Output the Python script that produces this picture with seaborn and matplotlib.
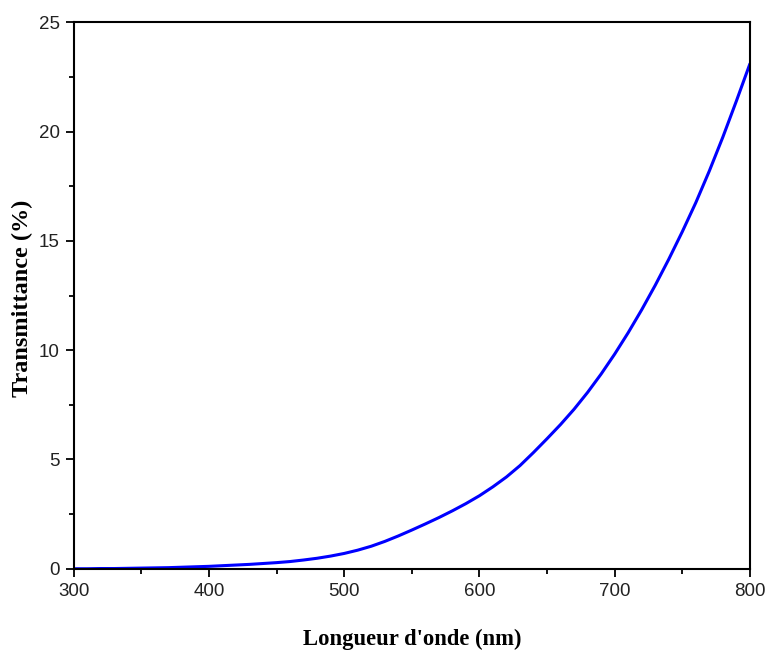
import numpy as np
import pandas as pd
import seaborn as sns
import matplotlib
matplotlib.use("Agg")
import matplotlib.pyplot as plt
from matplotlib.ticker import MultipleLocator

wavelength = [300, 310, 320, 330, 340, 350, 360, 370, 380, 390,
              400, 410, 420, 430, 440, 450, 460, 470, 480, 490,
              500, 510, 520, 530, 540, 550, 560, 570, 580, 590,
              600, 610, 620, 630, 640, 650, 660, 670, 680, 690,
              700, 710, 720, 730, 740, 750, 760, 770, 780, 790, 800]
transmittance = [0.00, 0.00, 0.01, 0.01, 0.02, 0.03, 0.04, 0.05, 0.07, 0.09,
                 0.11, 0.14, 0.17, 0.20, 0.24, 0.28, 0.33, 0.40, 0.48, 0.58,
                 0.70, 0.85, 1.03, 1.25, 1.50, 1.77, 2.05, 2.34, 2.65, 2.98,
                 3.34, 3.75, 4.20, 4.72, 5.32, 5.95, 6.60, 7.30, 8.07, 8.91,
                 9.82, 10.80, 11.85, 12.97, 14.16, 15.42, 16.75, 18.20, 19.75, 21.40, 23.1]

df = pd.DataFrame({"wl": wavelength, "T": transmittance})

sns.set_theme(style="white")
plt.rcParams['font.family'] = ['Liberation Sans', 'DejaVu Sans']

fig = plt.figure(figsize=(7.66, 6.5), dpi=100)
ax = fig.add_axes([0.0962, 0.125, 0.979 - 0.0962, 0.9657 - 0.125])

sns.lineplot(data=df, x="wl", y="T", ax=ax, color="#0000ff", linewidth=2.2)

ax.set_xlim(300, 800)
ax.set_ylim(0, 25)
ax.xaxis.set_major_locator(MultipleLocator(100))
ax.xaxis.set_minor_locator(MultipleLocator(50))
ax.yaxis.set_major_locator(MultipleLocator(5))
ax.yaxis.set_minor_locator(MultipleLocator(2.5))

for s in ax.spines.values():
    s.set_visible(True)
    s.set_color("black")
    s.set_linewidth(1.5)

ax.tick_params(axis="both", which="major", direction="out", length=6,
               width=1.3, colors="black", labelsize=13.5, bottom=True, left=True,
               top=False, right=False, pad=4)
ax.tick_params(axis="both", which="minor", direction="out", length=3.5,
               width=1.3, colors="black", bottom=True, left=True,
               top=False, right=False)
for lbl in ax.get_xticklabels() + ax.get_yticklabels():
    lbl.set_color("#222222")

ax.set_xlabel("Longueur d'onde (nm)", fontfamily="Liberation Serif",
              fontweight="bold", fontsize=16.3, color="black")
ax.set_ylabel("Transmittance (%)", fontfamily="Liberation Serif",
              fontweight="bold", fontsize=17.5, color="black")
ax.xaxis.set_label_coords(0.5, -0.11)
ax.yaxis.set_label_coords(-0.06, 0.494)

fig.savefig("out.png", dpi=100, facecolor="white")
